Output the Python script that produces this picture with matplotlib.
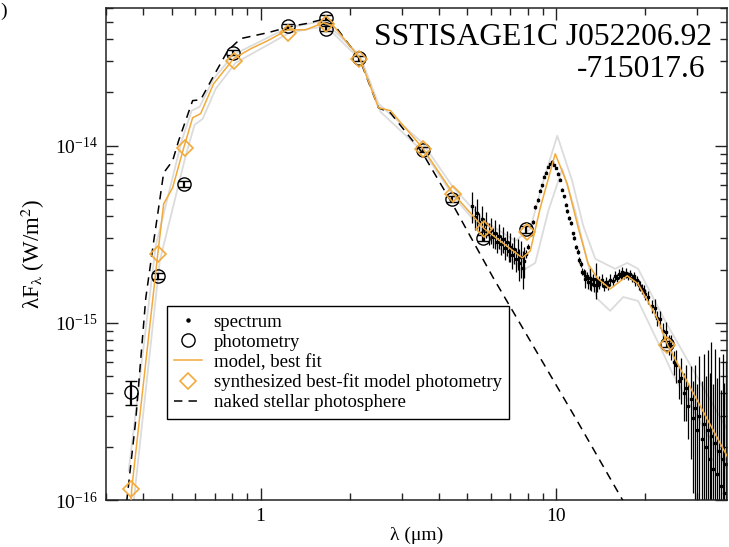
import matplotlib
matplotlib.use("Agg")
import matplotlib.pyplot as plt
from matplotlib.lines import Line2D
from matplotlib.ticker import FixedLocator, LogLocator, NullFormatter, FuncFormatter, LogFormatterMathtext
import numpy as np

plt.rcParams["font.family"] = ["Liberation Serif", "DejaVu Serif"]
plt.rcParams["mathtext.fontset"] = "stix"

# All fluxes are stored in units of 1e-15 W/m^2
UNIT = 1e-15

# Broad-band photometry (UBVI, JHK, IRAC, MIPS24)
phot_wl = [0.364, 0.449, 0.549, 0.804, 1.235, 1.66, 1.66, 2.16, 3.53, 4.45, 5.67, 7.90, 23.7]
phot_flux = [0.407, 1.845, 6.10, 33.5, 47.2, 52.9, 45.8, 31.2, 9.50, 5.00, 3.02, 3.38, 0.760]
phot_err = [0.065, 0.07, 0.22, 1.1, 1.4, 1.6, 1.4, 0.9, 0.3, 0.18, 0.12, 0.15, 0.03]

# Synthesized photometry from the best-fit model
syn_wl = [0.364, 0.449, 0.553, 0.810, 1.234, 1.66, 2.16, 3.53, 4.49, 5.71, 7.95, 23.7]
syn_flux = [0.115, 2.45, 9.74, 30.2, 43.5, 48.9, 31.0, 9.6, 5.36, 3.40, 3.27, 0.75]

# Best-fit model SED
model_wl = [0.361, 0.3665, 0.449, 0.470, 0.504, 0.5495, 0.589, 0.627, 0.6935, 0.810,
            0.925, 1.056, 1.234, 1.419, 1.632, 1.764, 2.161, 2.504, 2.749, 3.526,
            4.487, 5.71, 7.675, 8.17, 8.83, 9.92, 10.89, 11.87, 12.83, 13.76,
            15.22, 17.38, 18.92, 21.94, 23.89, 38.1]
model_flux = [0.076, 0.1153, 2.45, 4.70, 5.80, 9.74, 14.4, 15.2, 22.4, 31.0,
              35.3, 39.2, 45.2, 45.2, 49.5, 47.6, 31.4, 16.4, 15.8, 9.74,
              5.36, 3.40, 2.33, 2.55, 4.47, 9.01, 6.10, 3.44, 2.15, 1.79,
              1.556, 1.845, 1.66, 1.066, 0.741, 0.173]

# Other acceptable fits (upper / lower)
fit_hi_wl = [0.358, 0.4418, 0.541, 0.5846, 0.622, 0.6935, 0.810, 1.234, 1.632, 2.161,
             2.504, 3.526, 4.487, 5.71, 7.27, 8.17, 9.04, 10.08, 11.32, 12.34,
             13.55, 15.82, 17.38, 18.92, 23.35, 38.1]
fit_hi_flux = [0.146, 2.72, 10.67, 15.8, 16.6, 23.9, 32.7, 46.4, 50.8, 32.7,
               17.3, 10.4, 5.80, 3.77, 2.90, 3.40, 6.34, 11.4, 6.34, 3.53,
               2.30, 2.02, 2.18, 2.02, 1.025, 0.245]
fit_lo_wl = [0.3724, 0.456, 0.558, 0.598, 0.637, 0.705, 0.823, 1.253, 1.658, 2.194,
             2.544, 3.58, 4.56, 5.80, 7.675, 8.49, 9.40, 10.48, 11.59, 12.73,
             13.76, 15.22, 16.84, 18.92, 22.81, 24.66, 38.1]
fit_lo_flux = [0.0986, 2.24, 8.79, 13.15, 14.2, 21.0, 29.4, 43.5, 47.6, 30.2,
               15.56, 9.12, 5.02, 3.14, 1.97, 2.18, 4.29, 7.41, 4.29, 2.24,
               1.37, 1.17, 1.40, 1.33, 0.695, 0.522, 0.146]

# Naked stellar photosphere
star_wl = [0.3418, 0.3526, 0.3781, 0.4089, 0.4351, 0.452, 0.470, 0.504, 0.528, 0.589,
           0.627, 0.6935, 0.774, 0.856, 1.056, 1.292, 1.419, 1.658, 1.764, 2.161,
           2.504, 2.749, 3.526, 4.453, 6.13, 11.78, 16.84, 19.22]
star_flux = [0.0668, 0.0986, 0.281, 1.38, 2.90, 4.47, 7.03, 8.23, 10.67, 18.0,
             18.2, 24.8, 34.4, 40.3, 43.5, 47.6, 48.9, 52.2, 48.9, 31.0,
             16.4, 15.35, 9.12, 4.70, 1.79, 0.279, 0.0986, 0.0668]

# IRS spectrum
spec_wl = [5.2, 5.3, 5.4, 5.5, 5.6, 5.7, 5.8, 5.9, 6.0, 6.1, 6.2, 6.3, 6.4, 6.5, 6.6, 6.7,
           6.8, 6.9, 7.0, 7.1, 7.2, 7.3, 7.4, 7.5, 7.6, 7.7, 7.8,
           7.9, 8.05, 8.2, 8.35, 8.5, 8.65, 8.8, 8.95, 9.1, 9.25, 9.4, 9.55, 9.7, 9.85,
           10.0, 10.15, 10.3, 10.45, 10.6, 10.75, 10.9, 11.05, 11.2, 11.35, 11.5, 11.65,
           11.8, 11.95, 12.1, 12.25, 12.4, 12.55, 12.7, 12.85, 13.0, 13.15, 13.3, 13.45,
           13.6, 13.75, 13.9,
           14.0, 14.25, 14.5, 14.75, 15.0, 15.25, 15.5, 15.75, 16.0, 16.25, 16.5, 16.75,
           17.0, 17.25, 17.5, 17.75, 18.0, 18.25, 18.5, 18.75, 19.0, 19.25, 19.5, 19.75, 20.0,
           20.5, 21.0, 21.5, 22.0, 22.5, 23.0, 23.5, 24.0, 24.5, 25.0, 25.5, 26.0, 26.5,
           27.0, 27.5, 28.0, 28.5, 29.0, 29.5, 30.0, 30.5, 31.0, 31.5, 32.0, 32.5, 33.0,
           33.5, 34.0, 34.5, 35.0, 35.5, 36.0, 36.5, 37.0, 37.5]
spec_flux = [4.55, 3.95, 4.20, 3.70, 3.85, 3.40, 3.62, 3.20, 3.35, 3.05, 3.22, 2.88, 3.10,
             2.78, 2.98, 2.66, 2.85, 2.55, 2.70, 2.42, 2.60, 2.30, 2.48, 2.18, 2.35, 2.05, 2.25,
             2.45, 2.70, 3.18, 3.70, 4.52, 4.95, 5.58, 6.00, 6.70, 7.05, 7.62, 7.90, 8.15, 7.80,
             7.50, 6.95, 6.45, 5.65, 5.20, 4.65, 4.30, 3.90, 3.65, 3.20, 3.02, 2.68,
             2.53, 2.27, 2.16, 1.95, 1.92, 1.78, 1.84, 1.70, 1.79, 1.66, 1.76, 1.64,
             1.77, 1.63, 1.72,
             1.65, 1.74, 1.62, 1.70, 1.64, 1.75, 1.72, 1.85, 1.80, 1.90, 1.84, 1.93,
             1.86, 1.92, 1.85, 1.88, 1.80, 1.83, 1.72, 1.74, 1.64, 1.62, 1.55, 1.52, 1.45,
             1.40, 1.24, 1.22, 1.06, 1.05, 0.90, 0.89, 0.76, 0.74, 0.60, 0.58, 0.47, 0.49,
             0.40, 0.43, 0.34, 0.37, 0.29, 0.33, 0.25, 0.30, 0.22, 0.27, 0.20, 0.25, 0.17,
             0.23, 0.15, 0.21, 0.14, 0.19, 0.12, 0.17, 0.11, 0.16]
spec_err = [0.90, 0.60, 0.80, 0.50, 0.70, 0.50, 0.60, 0.45, 0.55, 0.40, 0.60, 0.40, 0.50,
            0.35, 0.50, 0.40, 0.45, 0.35, 0.50, 0.40, 0.45, 0.35, 0.50, 0.45, 0.55, 0.50, 0.45,
            0.12, 0.10, 0.10, 0.10, 0.12, 0.12, 0.12, 0.12, 0.12, 0.12, 0.12, 0.12, 0.12, 0.12,
            0.12, 0.12, 0.12, 0.10, 0.10, 0.10, 0.10, 0.10, 0.09, 0.08, 0.08, 0.08,
            0.08, 0.08, 0.08, 0.08, 0.10, 0.20, 0.10, 0.15, 0.25, 0.14, 0.12, 0.15,
            0.40, 0.14, 0.12,
            0.10, 0.15, 0.10, 0.12, 0.10, 0.14, 0.10, 0.12, 0.10, 0.12, 0.10, 0.15,
            0.10, 0.12, 0.10, 0.10, 0.10, 0.12, 0.10, 0.10, 0.10, 0.10, 0.10, 0.12, 0.10,
            0.12, 0.10, 0.14, 0.10, 0.12, 0.10, 0.12, 0.10, 0.12, 0.09, 0.12, 0.10, 0.14,
            0.12, 0.15, 0.12, 0.20, 0.18, 0.25, 0.20, 0.35, 0.25, 0.40, 0.30, 0.45, 0.35,
            0.55, 0.30, 0.50, 0.35, 0.45, 0.30, 0.50, 0.35, 0.45]

# Axis ticks
x_major = [1, 10]
y_major = [1e-16, 1e-15, 1e-14]

ORANGE = "#F2AA3A"
GREY = "#DCDCDC"

fig = plt.figure(figsize=(7.29, 5.47), dpi=100)
ax = fig.add_axes([106 / 729, 47 / 547, 621 / 729, 492 / 547])
ax.set_xscale("log")
ax.set_yscale("log")


def f(values):
    return np.asarray(values) * UNIT


ax.plot(fit_hi_wl, f(fit_hi_flux), color=GREY, lw=1.3, zorder=1)
ax.plot(fit_lo_wl, f(fit_lo_flux), color=GREY, lw=1.3, zorder=1)

ax.errorbar(spec_wl, f(spec_flux), yerr=f(spec_err), fmt="none", ecolor="black",
            elinewidth=0.9, zorder=2)
ax.plot(spec_wl, f(spec_flux), ls="none", marker="s", ms=1.8, color="black", zorder=2)

ax.errorbar(phot_wl, f(phot_flux), yerr=f(phot_err), fmt="o", mfc="none", mec="black",
            ms=9.5, mew=1.0, ecolor="black", elinewidth=1.6, capsize=4, capthick=1.2,
            zorder=3)

ax.plot(star_wl, f(star_flux), color="black", lw=1.1, dashes=(5.5, 4), zorder=4)
ax.plot(model_wl, f(model_flux), color=ORANGE, lw=1.1, zorder=5)
ax.plot(syn_wl, f(syn_flux), ls="none", marker="D", mfc="none", mec=ORANGE, ms=8,
        mew=1.2, zorder=6)

ax.set_xlim(0.3, 37.8)
ax.set_ylim(1e-16, 6.0e-14)

ax.xaxis.set_major_locator(FixedLocator(x_major))
ax.yaxis.set_major_locator(FixedLocator(y_major))
ax.xaxis.set_minor_locator(LogLocator(base=10, subs=np.arange(2, 10)))
ax.yaxis.set_minor_locator(LogLocator(base=10, subs=np.arange(2, 10)))
ax.xaxis.set_minor_formatter(NullFormatter())
ax.yaxis.set_minor_formatter(NullFormatter())
ax.xaxis.set_major_formatter(FuncFormatter(lambda v, p: f"{v:g}"))
ax.yaxis.set_major_formatter(LogFormatterMathtext())

ax.tick_params(which="both", direction="in", top=True, right=True, width=1.0,
               colors="#222222", labelcolor="black")
ax.tick_params(which="major", length=8.5, labelsize=14, pad=6)
ax.tick_params(which="minor", length=5)
for sp in ax.spines.values():
    sp.set_linewidth(1.1)
    sp.set_color("#222222")

ax.set_xlabel("λ (μm)", fontsize=14, labelpad=1)
ax.set_ylabel(r"λF$_{\mathrm{λ}}$ (W/m$^{2}$)", fontsize=16.5, labelpad=6)

ax.text(0.976, 0.925, "SSTISAGE1C J052206.92", transform=ax.transAxes,
        ha="right", va="baseline", fontsize=22.7)
ax.text(0.9646, 0.860, "-715017.6", transform=ax.transAxes,
        ha="right", va="baseline", fontsize=22.7)

handles = [
    Line2D([], [], ls="none", marker="o", ms=2.2, color="black"),
    Line2D([], [], ls="none", marker="o", ms=9.5, mfc="none", mec="black", mew=1.0),
    Line2D([], [], color=ORANGE, lw=1.1),
    Line2D([], [], ls="none", marker="D", ms=8, mfc="none", mec=ORANGE, mew=1.2),
    Line2D([], [], color="black", lw=1.1, dashes=(5.5, 4)),
]
labels = ["spectrum", "photometry", "model, best fit",
          "synthesized best-fit model photometry", "naked stellar photosphere"]
leg = ax.legend(handles, labels, loc="lower left", bbox_to_anchor=(0.098, 0.165),
                frameon=True, fancybox=False, edgecolor="black", framealpha=1,
                fontsize=13.5, handlelength=1.5, labelspacing=0.15, borderpad=0.4,
                handletextpad=0.6, borderaxespad=0)
leg.get_frame().set_linewidth(1.0)

# closing bracket of the panel tag in the corner
fig.text(0.0005, 0.995, ")", ha="left", va="top", fontsize=14)

fig.savefig("out.png", dpi=100)
